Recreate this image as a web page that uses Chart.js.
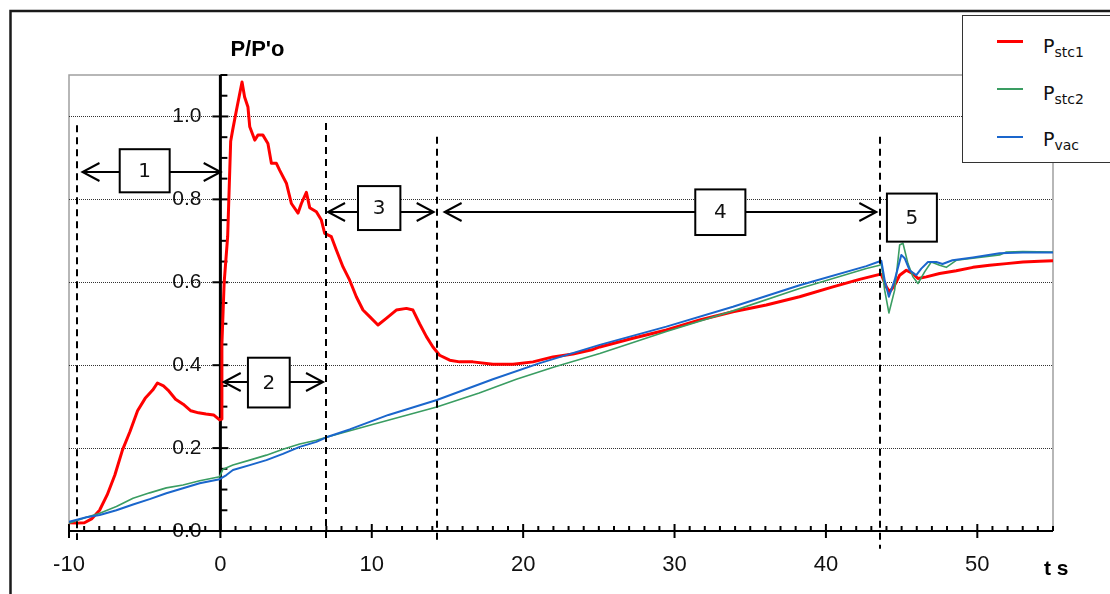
<!DOCTYPE html>
<html>
<head>
<meta charset="utf-8">
<script src="https://cdn.jsdelivr.net/npm/chart.js@4.4.0/dist/chart.umd.min.js"></script>
<style>
  html, body { margin: 0; padding: 0; background: #fff; overflow: hidden; }
  #wrap { position: relative; width: 1110px; height: 594px; overflow: hidden; }
  #legend { position: absolute; left: 962px; top: 15px; width: 200px; height: 146px;
            border: 1px solid #333; background: #fff; font-family: 'DejaVu Sans', sans-serif; }
  .swatch { position: absolute; left: 34px; width: 26px; }
  .name { position: absolute; left: 80px; font-size: 19px; line-height: 19px; color: #111; white-space: nowrap; }
  .name sub { font-size: 14px; line-height: 0; vertical-align: -4px; }
</style>
</head>
<body>
<div id="wrap">
  <canvas id="chart" width="1110" height="594"></canvas>
  <div id="legend">
    <div class="swatch" style="top:24px;height:3px;background:#ff0000"></div>
    <div class="name" style="top:21px">P<sub>stc1</sub></div>
    <div class="swatch" style="top:72px;height:1.5px;background:#3a9d62"></div>
    <div class="name" style="top:68px">P<sub>stc2</sub></div>
    <div class="swatch" style="top:120px;height:1.5px;background:#1a66cc"></div>
    <div class="name" style="top:114px">P<sub>vac</sub></div>
  </div>
</div>
<script>
'use strict';

const xTicks = [-10, 0, 10, 20, 30, 40, 50];
const yTicks = [0, 0.2, 0.4, 0.6, 0.8, 1.0];

const tStc1 = [-10, -9.48, -8.98, -8.48, -7.98, -7.48, -6.97, -6.47, -5.97, -5.47, -4.97, -4.47, -4.16, -3.76, -3.46,
  -2.96, -2.46, -1.95, -1.45, -0.95, -0.45, -0.05, 0.08, 0.1, 0.25, 0.48, 0.68, 0.81, 1.06, 1.25, 1.43, 1.6, 1.82,
  1.94, 2.27, 2.48, 2.81, 3.14, 3.37, 3.7, 3.92, 4.36, 4.69, 5.13, 5.35, 5.68, 5.9, 6.34, 6.67, 6.89, 7.33, 7.66,
  8.1, 8.54, 8.98, 9.42, 9.86, 10.41, 10.96, 11.62, 12.29, 12.72, 13.16, 13.61, 14.04, 14.48, 15.15, 15.8, 16.68,
  18.0, 19.33, 20.65, 21.97, 23.29, 24.61, 25.06, 27.25, 29.46, 31.66, 33.86, 36.06, 38.26, 40.46, 42.22, 43.55,
  43.66, 43.99, 44.21, 44.54, 44.87, 45.31, 45.75, 46.08, 46.63, 47.51, 48.61, 49.71, 50.81, 51.92, 53.01, 54.12, 55];
const pStc1 = [0.02, 0.019, 0.02, 0.03, 0.05, 0.087, 0.135, 0.195, 0.24, 0.29, 0.32, 0.34, 0.357, 0.35, 0.34,
  0.318, 0.306, 0.29, 0.285, 0.282, 0.28, 0.268, 0.27, 0.45, 0.6, 0.71, 0.94, 0.967, 1.015, 1.05, 1.083, 1.047, 1.023,
  0.975, 0.943, 0.955, 0.955, 0.935, 0.887, 0.887, 0.87, 0.839, 0.79, 0.767, 0.79, 0.817, 0.78, 0.77, 0.75, 0.718, 0.71, 0.678,
  0.637, 0.605, 0.565, 0.533, 0.517, 0.497, 0.513, 0.533, 0.537, 0.533, 0.5, 0.469, 0.444, 0.424, 0.412, 0.408, 0.408,
  0.402, 0.402, 0.408, 0.42, 0.427, 0.438, 0.444, 0.465, 0.485, 0.509, 0.529, 0.545, 0.565, 0.589, 0.607, 0.619,
  0.619, 0.589, 0.577, 0.593, 0.617, 0.629, 0.621, 0.609, 0.613, 0.621, 0.628, 0.636, 0.641, 0.645, 0.649, 0.651, 0.652];

const tStc2 = [-10, -8.85, -7.97, -6.87, -5.77, -4.67, -3.57, -2.47, -1.37, -0.05, 0.17, 0.83, 1.94, 3.04, 4.13, 5.24,
  6.34, 7.0, 10.05, 14.29, 17.1, 19.55, 22.1, 25.06, 29.46, 33.86, 38.26, 42.67, 43.55, 43.66, 43.88, 44.16, 44.54,
  44.87, 45.09, 45.42, 45.75, 46.08, 46.52, 46.96, 47.51, 47.95, 48.61, 49.71, 51.47, 51.92, 53.01, 55];
const pStc2 = [0.0185, 0.033, 0.043, 0.059, 0.079, 0.092, 0.104, 0.111, 0.121, 0.131, 0.149, 0.159, 0.171, 0.183, 0.197, 0.21,
  0.219, 0.226, 0.257, 0.299, 0.333, 0.366, 0.396, 0.428, 0.481, 0.531, 0.585, 0.633, 0.641, 0.645, 0.581, 0.526, 0.581,
  0.69, 0.694, 0.645, 0.613, 0.597, 0.625, 0.649, 0.641, 0.636, 0.653, 0.658, 0.666, 0.673, 0.674, 0.673];

const tVac = [-10, -8.85, -7.97, -6.87, -5.77, -4.67, -3.57, -2.47, -1.37, -0.05, 0.4, 0.83, 1.94, 3.04, 4.13, 5.24,
  6.34, 7.0, 8.54, 11.1, 14.3, 18.0, 21.1, 25.06, 29.46, 33.86, 38.26, 42.67, 43.66, 43.88, 44.16, 44.54, 44.98,
  45.2, 45.53, 45.97, 46.3, 46.74, 47.29, 47.7, 48.36, 49.71, 51.47, 53.01, 55];
const pVac = [0.0225, 0.033, 0.0386, 0.05, 0.064, 0.077, 0.091, 0.103, 0.115, 0.125, 0.135, 0.147, 0.159, 0.171, 0.186, 0.203,
  0.215, 0.226, 0.245, 0.28, 0.316, 0.366, 0.405, 0.449, 0.493, 0.541, 0.593, 0.639, 0.652, 0.605, 0.565, 0.605, 0.666,
  0.658, 0.629, 0.617, 0.633, 0.649, 0.649, 0.644, 0.653, 0.66, 0.67, 0.672, 0.672];

// phase boundaries (dashed lines): t, top value, bottom value
const markT = [-9.47, 7.0, 14.31, 43.55];
const markTop = [0.979, 0.984, 0.951, 0.951];
const markBottom = [-0.022, -0.022, -0.022, -0.043];

// numbered boxes: label, t range, value range; arrows: t range, value
const phaseLabels = ['1', '2', '3', '4', '5'];
const boxT = [[-6.65, -3.35], [1.82, 4.58], [9.09, 11.89], [31.37, 34.68], [44.03, 47.33]];
const boxV = [[0.921, 0.817], [0.418, 0.298], [0.832, 0.726], [0.824, 0.714], [0.814, 0.698]];
const arrowT = [[-9.11, 0.02], [0.22, 6.78], [7.11, 14.09], [14.81, 43.33], null];
const arrowV = [0.866, 0.36, 0.7685, 0.7685, null];

const toXY = (ts, ps) => ts.map((t, i) => ({ x: t, y: ps[i] }));

function line(ctx, x1, y1, x2, y2) {
  ctx.beginPath();
  ctx.moveTo(x1, y1);
  ctx.lineTo(x2, y2);
  ctx.stroke();
}

const decor = {
  id: 'decor',
  beforeDraw(chart) {
    const { ctx, chartArea: a, scales: { y } } = chart;
    ctx.save();
    ctx.strokeStyle = '#1a1a1a';
    ctx.lineWidth = 2.5;
    ctx.strokeRect(10.5, 11, 1400, 900);

    ctx.strokeStyle = '#a0a0a0';
    ctx.lineWidth = 1.5;
    ctx.beginPath();
    ctx.moveTo(a.left, a.bottom);
    ctx.lineTo(a.left, a.top);
    ctx.lineTo(a.right, a.top);
    ctx.lineTo(a.right, a.bottom);
    ctx.stroke();

    ctx.strokeStyle = '#333';
    ctx.lineWidth = 1;
    ctx.setLineDash([1, 1]);
    yTicks.slice(1).forEach(v => {
      const yy = Math.round(y.getPixelForValue(v)) + 0.5;
      line(ctx, a.left, yy, a.right, yy);
    });
    ctx.restore();
  },
  beforeDatasetsDraw(chart) {
    const { ctx, chartArea: a, scales: { x, y } } = chart;
    const x0 = x.getPixelForValue(0);
    const y0 = y.getPixelForValue(0);
    ctx.save();
    ctx.strokeStyle = '#000';
    // x axis
    ctx.lineWidth = 2;
    line(ctx, a.left, y0, a.right, y0);
    for (let t = -10; t <= 55; t++) {
      const xx = x.getPixelForValue(t);
      if (t % 10 === 0) line(ctx, xx, y0 - 7, xx, y0 + 7);
      else line(ctx, xx, y0, xx, y0 - 5);
    }
    // y axis
    ctx.lineWidth = 3;
    line(ctx, x0, a.top, x0, a.bottom);
    ctx.lineWidth = 2;
    for (let i = 0; i <= 22; i++) {
      const yy = y.getPixelForValue(i * 0.05);
      if (i % 4 === 0) line(ctx, x0 - 8, yy, x0 + 8, yy);
      else line(ctx, x0, yy, x0 + 7, yy);
    }
    ctx.restore();
  },
  afterDatasetsDraw(chart) {
    const { ctx, chartArea: a, scales: { x, y } } = chart;
    ctx.save();
    ctx.strokeStyle = '#000';
    ctx.lineWidth = 2;
    ctx.setLineDash([7, 5]);
    markT.forEach((t, i) => {
      const xx = Math.round(x.getPixelForValue(t));
      line(ctx, xx, y.getPixelForValue(markTop[i]), xx, y.getPixelForValue(markBottom[i]));
    });
    ctx.setLineDash([]);

    arrowT.forEach((r, i) => {
      if (!r) return;
      const x1 = x.getPixelForValue(r[0]);
      const x2 = x.getPixelForValue(r[1]);
      const yy = Math.round(y.getPixelForValue(arrowV[i]));
      ctx.lineWidth = 2;
      line(ctx, x1, yy, x2, yy);
      ctx.beginPath();
      ctx.moveTo(x1 + 17, yy - 9); ctx.lineTo(x1, yy); ctx.lineTo(x1 + 17, yy + 9);
      ctx.moveTo(x2 - 17, yy - 9); ctx.lineTo(x2, yy); ctx.lineTo(x2 - 17, yy + 9);
      ctx.stroke();
    });

    ctx.font = '20px "DejaVu Sans", sans-serif';
    ctx.textAlign = 'center';
    ctx.textBaseline = 'middle';
    boxT.forEach((r, i) => {
      const bx1 = x.getPixelForValue(r[0]);
      const bx2 = x.getPixelForValue(r[1]);
      const by1 = y.getPixelForValue(boxV[i][0]);
      const by2 = y.getPixelForValue(boxV[i][1]);
      ctx.fillStyle = '#fff';
      ctx.fillRect(bx1, by1, bx2 - bx1, by2 - by1);
      ctx.lineWidth = 2;
      ctx.strokeRect(bx1, by1, bx2 - bx1, by2 - by1);
      ctx.fillStyle = '#111';
      ctx.fillText(phaseLabels[i], (bx1 + bx2) / 2, (by1 + by2) / 2 + 1);
    });

    ctx.fillStyle = '#000';
    ctx.textAlign = 'left';
    ctx.textBaseline = 'alphabetic';
    ctx.font = 'bold 22px "Liberation Sans", Arial, sans-serif';
    ctx.fillText("P/P'o", x.getPixelForValue(0) + 10, a.top - 19);
    ctx.font = 'bold 21px "Liberation Sans", Arial, sans-serif';
    ctx.fillText('t s', a.right - 9, a.bottom + 44);
    ctx.restore();
  }
};

const tickFont = { family: '"Liberation Sans", Arial, sans-serif', size: 22 };

new Chart(document.getElementById('chart'), {
  type: 'line',
  data: {
    datasets: [
      { label: 'Pvac', data: toXY(tVac, pVac), borderColor: '#1a66cc', borderWidth: 2 },
      { label: 'Pstc2', data: toXY(tStc2, pStc2), borderColor: '#3a9d62', borderWidth: 1.6 },
      { label: 'Pstc1', data: toXY(tStc1, pStc1), borderColor: '#ff0000', borderWidth: 3 },
    ],
  },
  options: {
    responsive: false,
    animation: false,
    events: [],
    layout: { padding: { left: 69, top: 75, right: 57, bottom: 0 } },
    elements: { point: { radius: 0 }, line: { tension: 0, borderJoinStyle: 'round' } },
    plugins: { legend: { display: false }, tooltip: { enabled: false } },
    scales: {
      x: {
        type: 'linear', min: -10, max: 55, position: 'bottom',
        grid: { display: false, drawTicks: false }, border: { display: false },
        ticks: { font: tickFont, color: '#111', padding: 21, maxRotation: 0 },
        afterBuildTicks: s => { s.ticks = xTicks.map(v => ({ value: v })); },
        afterFit: s => { s.height = 63; },
      },
      y: {
        type: 'linear', min: 0, max: 1.1, position: { x: -1.25 },
        grid: { display: false, drawTicks: false }, border: { display: false },
        ticks: { font: { family: tickFont.family, size: 21 }, color: '#111', padding: 0, callback: v => v.toFixed(1) },
        afterBuildTicks: s => { s.ticks = yTicks.map(v => ({ value: v })); },
      },
    },
  },
  plugins: [decor],
});
</script>
</body>
</html>
